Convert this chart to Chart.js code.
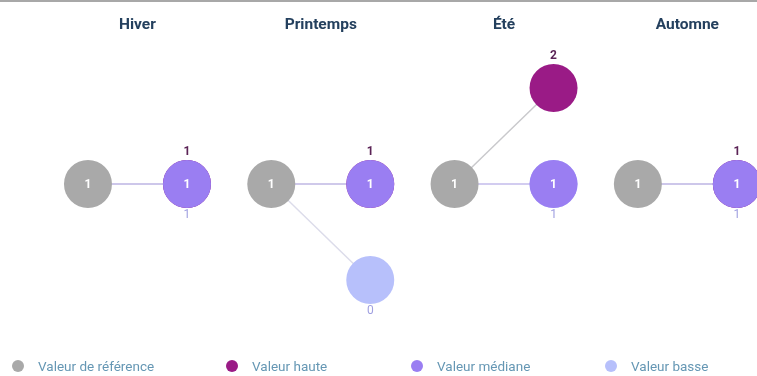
<!DOCTYPE html>
<html>
<head>
<meta charset="utf-8">
<script src="https://cdn.jsdelivr.net/npm/chart.js@4.4.0/dist/chart.umd.min.js"></script>
<style>
    body { margin: 0; background: #fff; font-family: Roboto, sans-serif; }
    #wrap { position: relative; width: 757px; height: 376px; overflow: hidden; border-top: 2px solid #a8a8a8; box-sizing: border-box; }
    #chart { position: absolute; left: 0; top: -2px; }
    .leg { position: absolute; top: 356px; font-size: 13.5px; color: #6597b4; display: flex; align-items: center; white-space: nowrap; }
    .leg i { display: inline-block; width: 12px; height: 12px; border-radius: 50%; margin-right: 14px; }
</style>
</head>
<body>
<div id="wrap">
    <canvas id="chart" width="757" height="376"></canvas>
    <div id="legend"></div>
</div>
<script>
const seasons = ['Hiver', 'Printemps', 'Été', 'Automne'];
const reference = [1, 1, 1, 1];
const high = [1, 1, 2, 1];
const median = [1, 1, 1, 1];
const low = [1, 0, 1, 1];

const legendLabels = ['Valeur de référence', 'Valeur haute', 'Valeur médiane', 'Valeur basse'];
const colors = {
    ref: '#a9a9a9',
    high: '#9a1b86',
    median: '#9a7ef2',
    low: '#b7c0fb'
};
const OFFSET = 0.27;

let points = (values, dx) => values.map((v, i) => ({ x: i + dx, y: v }));

let datasets = [];
// links from the reference point to each value (first pushed = drawn on top)
seasons.forEach((s, i) => {
    [[median, '#cdc5f0'], [high, '#c9c9cc'], [low, '#dcdcea']].forEach(([arr, c]) => {
        datasets.push({
            type: 'line',
            data: [{ x: i - OFFSET, y: reference[i] }, { x: i + OFFSET, y: arr[i] }],
            borderColor: c,
            borderWidth: 1.5,
            pointRadius: 0,
            order: 10,
            kind: 'link'
        });
    });
});
datasets.push({ label: 'Valeur basse', data: points(low, OFFSET), backgroundColor: colors.low, order: 4, kind: 'low' });
datasets.push({ label: 'Valeur haute', data: points(high, OFFSET), backgroundColor: colors.high, order: 3, kind: 'high' });
datasets.push({ label: 'Valeur de référence', data: points(reference, -OFFSET), backgroundColor: colors.ref, order: 2, kind: 'ref' });
datasets.push({ label: 'Valeur médiane', data: points(median, OFFSET), backgroundColor: colors.median, order: 1, kind: 'median' });

const labelPlugin = {
    id: 'labels',
    afterDatasetsDraw(chart) {
        const ctx = chart.ctx;
        const xs = chart.scales.x;
        ctx.save();
        ctx.textAlign = 'center';
        ctx.textBaseline = 'middle';
        // season titles
        ctx.font = 'bold 15.5px Roboto';
        ctx.fillStyle = '#24405e';
        seasons.forEach((s, i) => ctx.fillText(s, xs.getPixelForValue(i), 25));

        chart.data.datasets.forEach((ds, di) => {
            const meta = chart.getDatasetMeta(di);
            meta.data.forEach((pt, j) => {
                const v = ds.data[j].y;
                if (ds.kind === 'ref' || ds.kind === 'median') {
                    ctx.font = 'bold 12px Roboto';
                    ctx.fillStyle = '#ffffff';
                    ctx.fillText(v, pt.x, pt.y + 1);
                } else if (ds.kind === 'high') {
                    ctx.font = 'bold 12px Roboto';
                    ctx.fillStyle = '#5b2356';
                    ctx.fillText(v, pt.x, pt.y - 32);
                } else if (ds.kind === 'low') {
                    ctx.font = '12px Roboto';
                    ctx.fillStyle = '#9f9fe0';
                    ctx.fillText(v, pt.x, pt.y + 31);
                }
            });
        });
        ctx.restore();
    }
};

new Chart(document.getElementById('chart'), {
    type: 'scatter',
    data: { datasets: datasets },
    options: {
        responsive: false,
        animation: false,
        events: [],
        layout: { padding: 0, autoPadding: false },
        elements: { point: { radius: 24, borderWidth: 0, hoverRadius: 24 } },
        scales: {
            x: { type: 'linear', min: -0.75, max: 3.38, display: false },
            y: { type: 'linear', min: -1, max: 2.917, display: false }
        },
        plugins: { legend: { display: false }, tooltip: { enabled: false } }
    },
    plugins: [labelPlugin]
});

// legend
const legendX = [12, 226, 411, 605];
const legendColors = [colors.ref, colors.high, colors.median, colors.low];
let legend = document.getElementById('legend');
legendLabels.forEach((l, i) => {
    let d = document.createElement('div');
    d.className = 'leg';
    d.style.left = legendX[i] + 'px';
    d.innerHTML = '<i style="background:' + legendColors[i] + '"></i>' + l;
    legend.appendChild(d);
});
</script>
</body>
</html>
